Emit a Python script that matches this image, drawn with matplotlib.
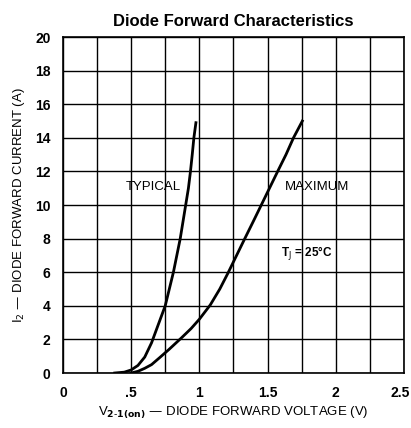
import numpy as np
import matplotlib.pyplot as plt
import matplotlib.transforms as mtrans
from matplotlib.ticker import MultipleLocator, FixedLocator, FixedFormatter

# curves (V, A)
typ_v = [0.38, 0.45, 0.50, 0.55, 0.60, 0.65, 0.70, 0.75, 0.78, 0.81, 0.835, 0.86,
         0.88, 0.90, 0.92, 0.935, 0.948, 0.96, 0.975]
typ_i = [0.0, 0.05, 0.18, 0.45, 0.95, 1.8, 2.9, 4.0, 5.0, 6.0, 7.0, 8.0,
         9.0, 10.0, 11.0, 12.0, 13.0, 14.0, 14.9]

max_v = [0.50, 0.55, 0.60, 0.65, 0.71, 0.78, 0.87, 0.94, 1.00, 1.08, 1.15, 1.21,
         1.27, 1.33, 1.40, 1.46, 1.52, 1.58, 1.635, 1.69, 1.755]
max_i = [0.0, 0.1, 0.28, 0.5, 0.92, 1.42, 2.1, 2.65, 3.2, 4.05, 5.0, 5.95,
         6.95, 7.95, 9.1, 10.1, 11.1, 12.1, 13.0, 14.0, 15.0]

xtick_pos = [0, 0.5, 1, 1.5, 2, 2.5]
xtick_lbl = ['0', '.5', '1', '1.5', '2', '2.5']
ytick_pos = [0, 2, 4, 6, 8, 10, 12, 14, 16, 18, 20]

plt.rcParams['font.family'] = ['Liberation Sans', 'DejaVu Sans']

fig = plt.figure(figsize=(4.11, 4.28), dpi=100)
ax = fig.add_axes([0.153, 0.1285, 0.83, 0.785])

ax.plot(typ_v, typ_i, color='black', lw=2.0)
ax.plot(max_v, max_i, color='black', lw=2.0)

ax.set_xlim(0, 2.5)
ax.set_ylim(0, 20)
ax.xaxis.set_major_locator(FixedLocator(xtick_pos))
ax.xaxis.set_major_formatter(FixedFormatter(xtick_lbl))
ax.xaxis.set_minor_locator(MultipleLocator(0.25))
ax.yaxis.set_major_locator(FixedLocator(ytick_pos))
ax.tick_params(which='both', length=0, labelsize=10, pad=9)
for lbl in ax.get_xticklabels() + ax.get_yticklabels():
    lbl.set_fontweight('bold')
# keep the last x label inside the figure
last = ax.get_xticklabels()[-1]
last.set_ha('right')
last.set_transform(last.get_transform() + mtrans.ScaledTranslation(6 / 100, 0, fig.dpi_scale_trans))

ax.grid(True, which='both', color='black', lw=1.0)
for sp in ax.spines.values():
    sp.set_linewidth(1.2)

ax.text(0.66, 11.1, 'TYPICAL', fontsize=9.5, ha='center', va='center')
ax.text(1.86, 11.1, 'MAXIMUM', fontsize=9.5, ha='center', va='center')
ax.text(1.60, 7.1, r'T$_{\rm J}$ = 25°C', fontsize=8.5, ha='left', va='center',
        fontweight='bold')

ax.set_title('Diode Forward Characteristics', fontsize=12, fontweight='bold', pad=8)
ax.set_xlabel(r'V$_{\mathbf{2\text{-}1(on)}}$ — DIODE FORWARD VOLTAGE (V)', fontsize=9.5)
ax.set_ylabel(r'I$_{2}$ — DIODE FORWARD CURRENT (A)', fontsize=9.5, labelpad=6)

fig.savefig('out.png', dpi=100)
